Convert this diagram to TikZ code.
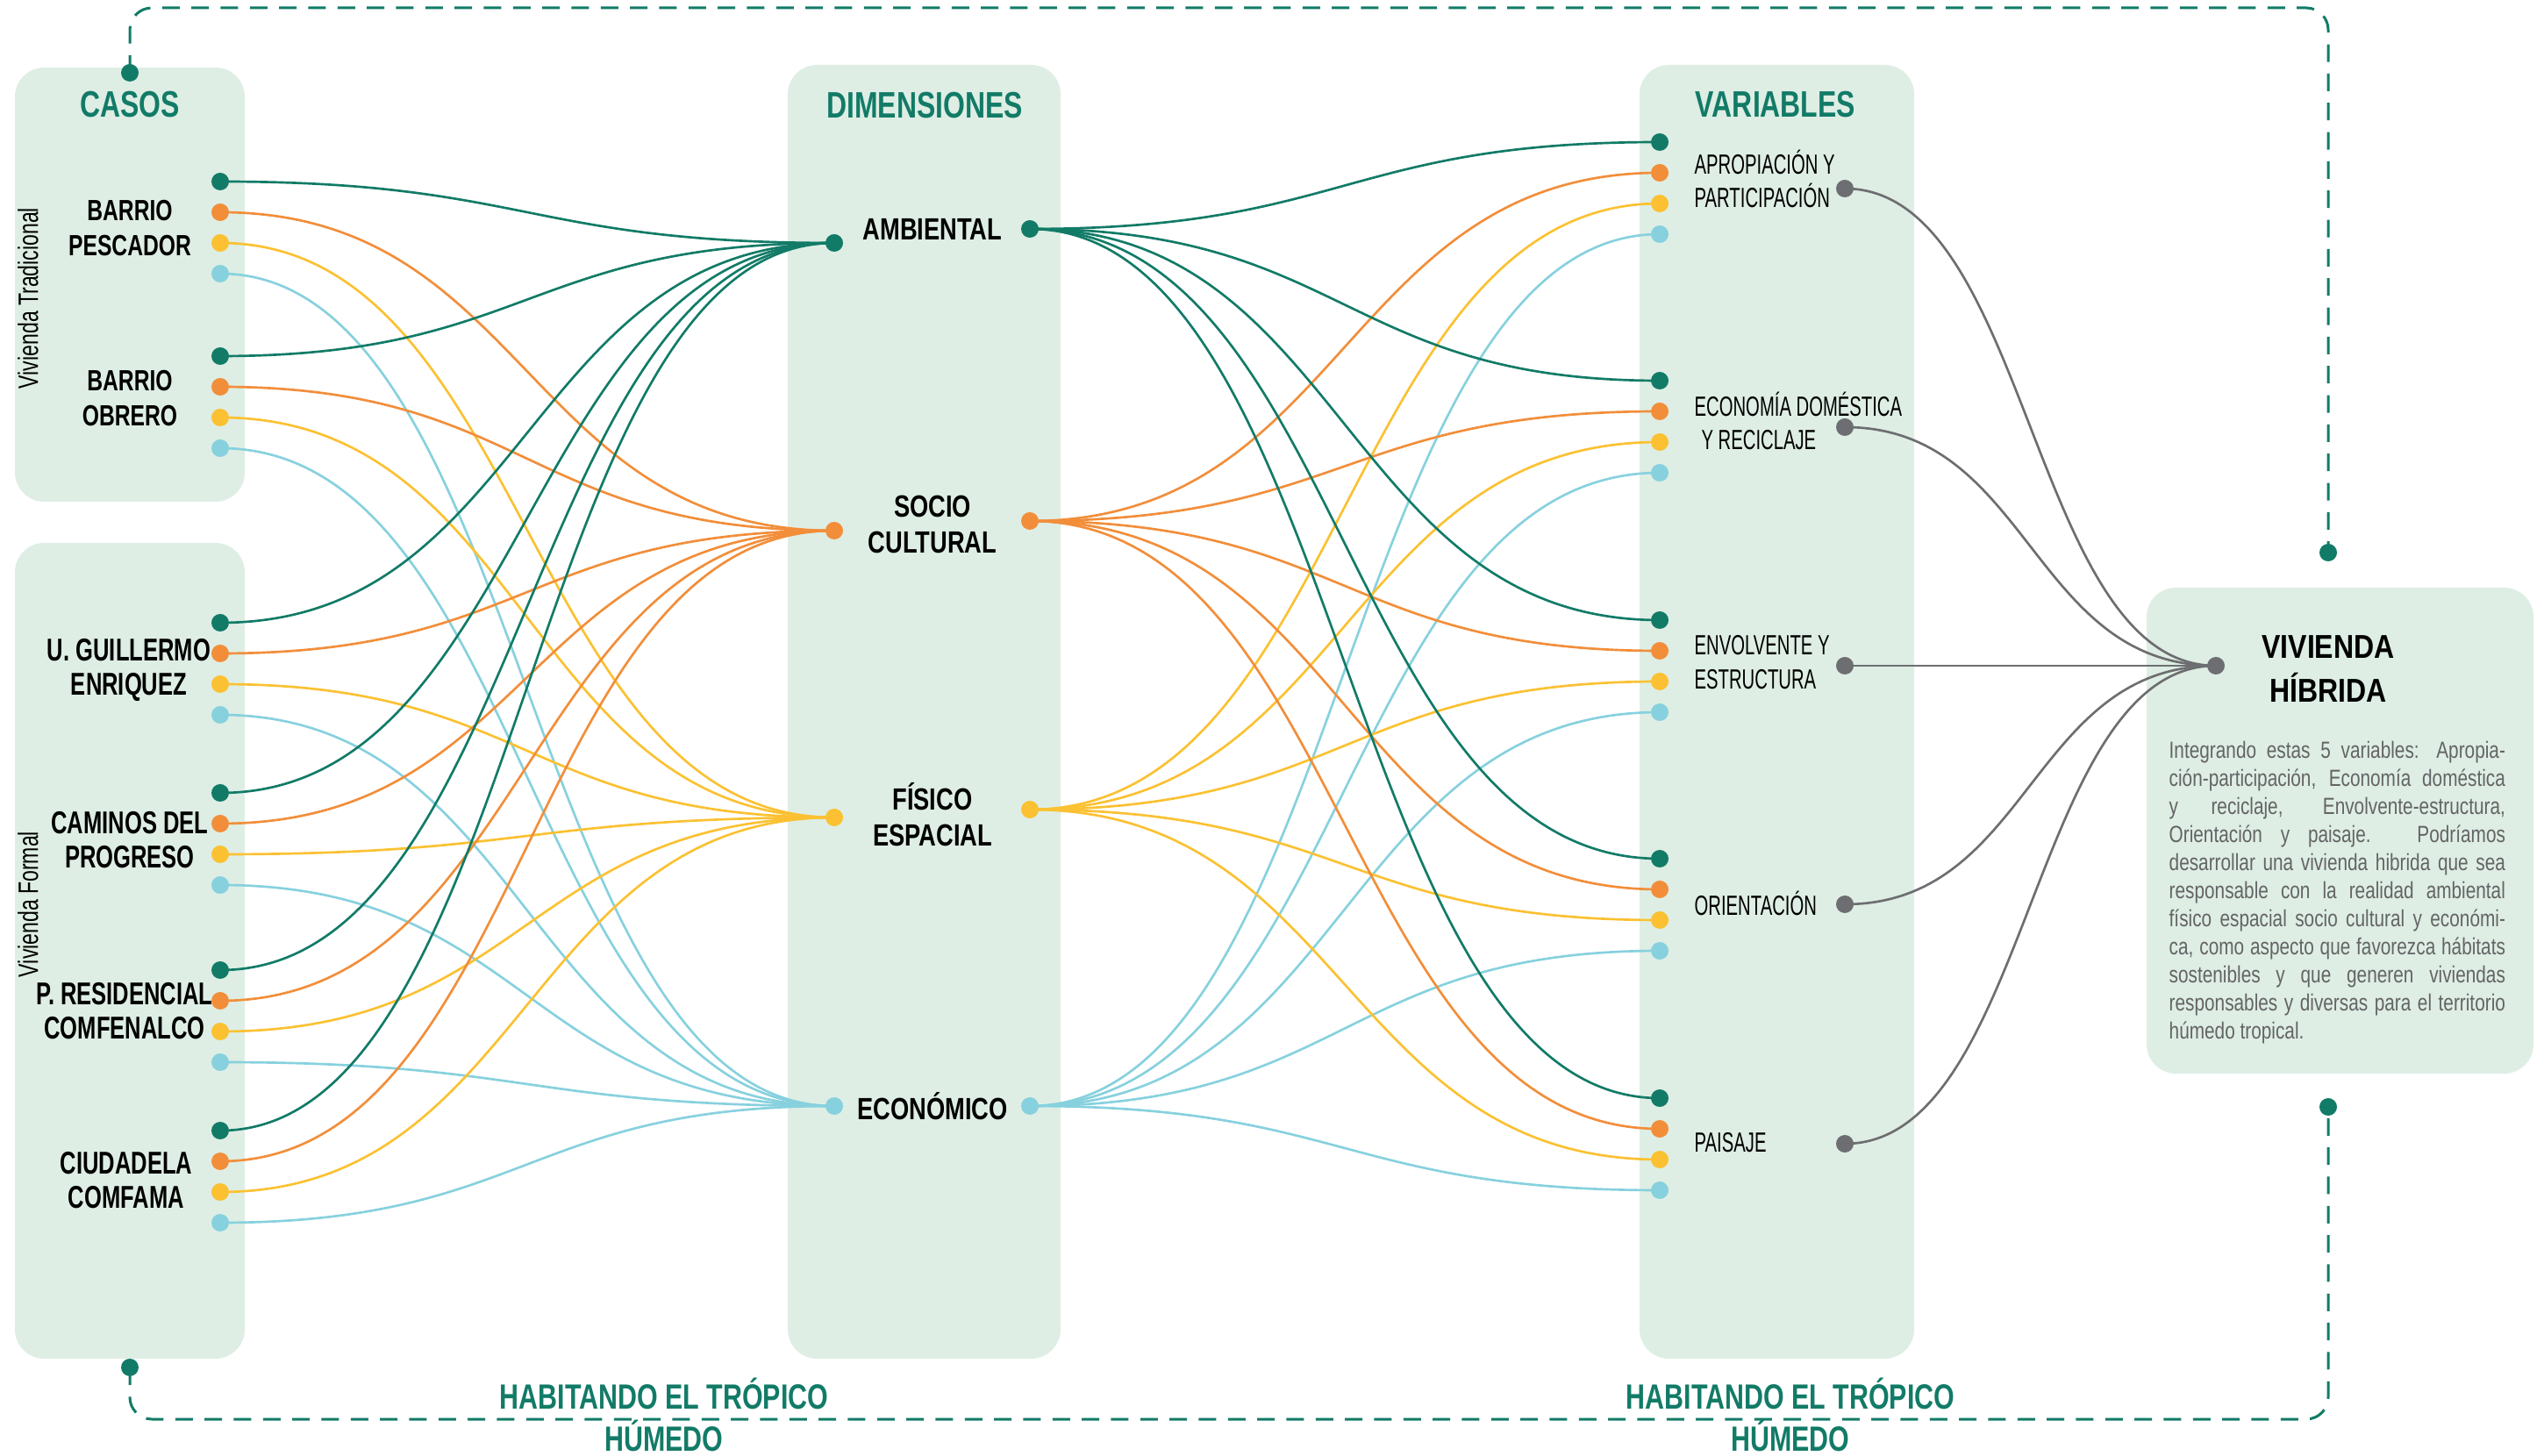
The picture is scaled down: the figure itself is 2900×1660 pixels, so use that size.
\documentclass[tikz,border=0pt]{standalone}
\usepackage{fontspec}
\setmainfont{Liberation Sans}
\newfontfamily\titlefont[FakeStretch=0.76]{Liberation Sans}
\newfontfamily\caseAfont[FakeStretch=0.74]{Liberation Sans}
\newfontfamily\caseBfont[FakeStretch=0.71]{Liberation Sans}
\newfontfamily\dimfont[FakeStretch=0.78]{Liberation Sans}
\newfontfamily\varfont[FakeStretch=0.64]{Liberation Sans}
\newfontfamily\hubfont[FakeStretch=0.85]{Liberation Sans}
\newfontfamily\parafont[FakeStretch=0.78]{Liberation Sans}
\newfontfamily\vertfont[FakeStretch=0.72]{Liberation Sans}
\usetikzlibrary{calc}
\definecolor{cteal}{RGB}{18,123,103}
\definecolor{corange}{RGB}{242,142,58}
\definecolor{cyellow}{RGB}{251,193,50}
\definecolor{cblue}{RGB}{135,209,222}
\definecolor{cgray}{RGB}{109,110,113}
\definecolor{boxfill}{RGB}{222,238,228}
\definecolor{paragray}{RGB}{100,100,102}
\pgfdeclarelayer{bg}
\pgfdeclarelayer{wires}
\pgfsetlayers{bg,wires,main}
\newcommand\wire[3]{\draw[wire,#3] let \p1=(#1.center),\p2=(#2.center),\n1={0.5*(\x2-\x1)} in (\p1) .. controls +(\n1,0pt) and +(-\n1,0pt) .. (\p2);}
\begin{document}
\begin{tikzpicture}[x=0.3pt,y=-0.3pt,
  panel/.style={fill=boxfill, rounded corners=10pt},
  blob/.style={circle, fill=#1, draw=none, inner sep=0pt, minimum size=6pt},
  wire/.style={line width=0.8pt},
  loopline/.style={draw=cteal, line width=0.9pt, dash pattern=on 6pt off 4pt, rounded corners=7.5pt},
  title/.style={inner sep=0pt, text=cteal, font=\titlefont\bfseries\fontsize{12.6}{14}\selectfont},
  foot/.style={inner sep=0pt, text=cteal, align=center, font=\titlefont\bfseries\fontsize{12}{14.2}\selectfont},
  caseA/.style={inner sep=0pt, align=center, font=\caseAfont\bfseries\fontsize{10}{12}\selectfont},
  caseB/.style={inner sep=0pt, align=center, font=\caseBfont\bfseries\fontsize{10.8}{11.7}\selectfont},
  dimlabel/.style={inner sep=0pt, align=center, font=\dimfont\bfseries\fontsize{10.5}{12.3}\selectfont},
  varlabel/.style={inner sep=0pt, anchor=west, align=left, font=\varfont\fontsize{9.5}{11.6}\selectfont},
  vert/.style={inner sep=0pt, rotate=90, font=\vertfont\fontsize{9.6}{11}\selectfont},
  hubtitle/.style={inner sep=0pt, align=center, font=\hubfont\bfseries\fontsize{11.3}{15}\selectfont}
]
\useasboundingbox (0,0) rectangle (2900,1660);

% ---------- panels ----------
\begin{pgfonlayer}{bg}
  \path[panel] (17,77) rectangle (279,572);
  \path[panel] (17,619) rectangle (279,1549);
  \path[panel] (898,74) rectangle (1209,1549);
  \path[panel] (1869,74) rectangle (2182,1549);
  \path[panel] (2447,670) rectangle (2888,1224);
\end{pgfonlayer}

% ---------- titles ----------
\node[title] (tcasos) at (148,119) {CASOS};
\node[title] (tdim) at (1054,120) {DIMENSIONES};
\node[title] (tvar) at (2024,119) {VARIABLES};
\node[foot] (foot1) at (757,1613) {HABITANDO EL TRÓPICO\\HÚMEDO};
\node[foot] (foot2) at (2041,1613) {HABITANDO EL TRÓPICO\\HÚMEDO};

% ---------- vertical labels ----------
\node[vert] (vtrad) at (32,340) {Vivienda Tradicional};
\node[vert] (vform) at (32,1031) {Vivienda Formal};

% ---------- case labels ----------
\node[caseA] (lc1) at (148,260) {BARRIO\\PESCADOR};
\node[caseA] (lc2) at (148,454) {BARRIO\\OBRERO};
\node[caseB] (lc3) at (147,764) {U. GUILLERMO\\ENRIQUEZ};
\node[caseB] (lc4) at (148,958) {CAMINOS DEL\\PROGRESO};
\node[caseB] (lc5) at (142,1153) {P. RESIDENCIAL\\COMFENALCO};
\node[caseB] (lc6) at (144,1346) {CIUDADELA\\COMFAMA};

% ---------- dimension labels ----------
\node[dimlabel] (ldA) at (1063,261) {AMBIENTAL};
\node[dimlabel] (ldS) at (1063,598) {SOCIO\\CULTURAL};
\node[dimlabel] (ldF) at (1063,929) {FÍSICO\\ESPACIAL};
\node[dimlabel] (ldE) at (1063,1261) {ECONÓMICO};

% ---------- variable labels ----------
\node[varlabel] (lv1) at (1931,204) {APROPIACIÓN Y\\PARTICIPACIÓN};
\node[varlabel] (lv2) at (1931,480) {ECONOMÍA DOMÉSTICA\\\hspace*{0.25em}Y RECICLAJE};
\node[varlabel] (lv3) at (1931,755) {ENVOLVENTE Y\\ESTRUCTURA};
\node[varlabel] (lv4) at (1931,1030) {ORIENTACIÓN};
\node[varlabel] (lv5) at (1931,1303) {PAISAJE};

% ---------- hub ----------
\node[hubtitle] (hubt) at (2654,763) {VIVIENDA\\HÍBRIDA};
\node[anchor=north west, inner sep=0pt, text=paragray, font=\parafont\fontsize{8}{9.6}\selectfont] (desc) at (2472,845) {\vbox{\baselineskip=9.6pt
\hbox to 115pt{Integrando estas 5 variables: Apropia-}
\hbox to 115pt{ción-participación, Economía doméstica}
\hbox to 115pt{y reciclaje, Envolvente-estructura,}
\hbox to 115pt{Orientación y paisaje. Podríamos}
\hbox to 115pt{desarrollar una vivienda hibrida que sea}
\hbox to 115pt{responsable con la realidad ambiental}
\hbox to 115pt{físico espacial socio cultural y económi-}
\hbox to 115pt{ca, como aspecto que favorezca hábitats}
\hbox to 115pt{sostenibles y que generen viviendas}
\hbox to 115pt{responsables y diversas para el territorio}
\hbox{húmedo tropical.}}};

% ---------- dots ----------
\foreach \i/\y in {1/207,2/406,3/710,4/904,5/1106,6/1289}{
  \node[blob=cteal] (c\i-g) at (251,\y) {};
  \node[blob=corange] (c\i-o) at (251,\y+35) {};
  \node[blob=cyellow] (c\i-y) at (251,\y+70) {};
  \node[blob=cblue] (c\i-b) at (251,\y+105) {};
}
\node[blob=cteal] (dA-l) at (951,277) {};
\node[blob=corange] (dS-l) at (951,605) {};
\node[blob=cyellow] (dF-l) at (951,932) {};
\node[blob=cblue] (dE-l) at (951,1261) {};
\node[blob=cteal] (dA-r) at (1174,261) {};
\node[blob=corange] (dS-r) at (1174,594) {};
\node[blob=cyellow] (dF-r) at (1174,923) {};
\node[blob=cblue] (dE-r) at (1174,1261) {};
\foreach \j/\y/\k in {1/162/215,2/434/487,3/707/759,4/979/1031,5/1252/1304}{
  \node[blob=cteal] (v\j-g) at (1892,\y) {};
  \node[blob=corange] (v\j-o) at (1892,\y+35) {};
  \node[blob=cyellow] (v\j-y) at (1892,\y+70) {};
  \node[blob=cblue] (v\j-b) at (1892,\y+105) {};
  \node[blob=cgray] (v\j-k) at (2103,\k) {};
}
\node[blob=cgray] (hub) at (2526,759) {};

% loop dots
\node[blob=cteal] (casostop) at (148,83) {};
\node[blob=cteal] (casosbot) at (148,1559) {};
\node[blob=cteal] (hubtop) at (2654,630) {};
\node[blob=cteal] (hubbot) at (2654,1262) {};
\coordinate (tl) at (148,9);
\coordinate (tr) at (2654,9);
\coordinate (bl) at (148,1618);
\coordinate (br) at (2654,1618);

% ---------- connectors ----------
\begin{pgfonlayer}{wires}
  \draw[loopline] (casostop.center) -- (tl) -- (tr) -- (hubtop.center);
  \draw[loopline] (casosbot.center) -- (bl) -- (br) -- (hubbot.center);
  \foreach \i in {1,...,6}{
    \wire{c\i-b}{dE-l}{cblue}
    \wire{c\i-y}{dF-l}{cyellow}
    \wire{c\i-o}{dS-l}{corange}
    \wire{c\i-g}{dA-l}{cteal}
  }
  \foreach \j in {1,...,5}{
    \wire{dE-r}{v\j-b}{cblue}
    \wire{dF-r}{v\j-y}{cyellow}
    \wire{dS-r}{v\j-o}{corange}
    \wire{dA-r}{v\j-g}{cteal}
    \wire{v\j-k}{hub}{cgray}
  }
\end{pgfonlayer}
\end{tikzpicture}
\end{document}
